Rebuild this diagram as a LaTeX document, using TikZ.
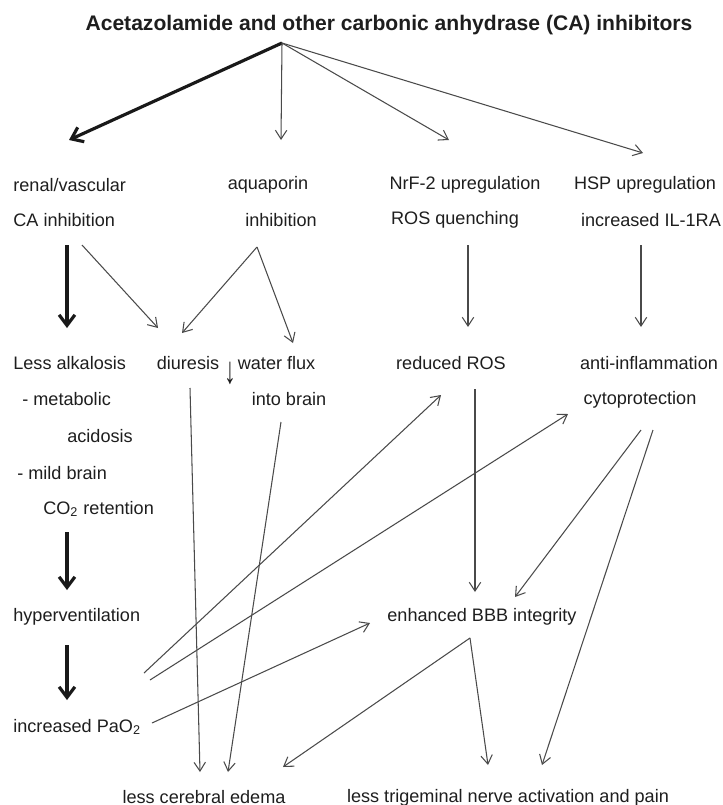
\documentclass[tikz,border=0pt]{standalone}
\usepackage{fontspec}
\setmainfont{Liberation Sans}
\usepackage{graphicx}
\usepackage{xcolor}
\usepackage{tikz}
\usetikzlibrary{arrows.meta, calc}

\definecolor{inkline}{HTML}{4A4A4A}
\definecolor{inktext}{HTML}{1E1E1E}

\begin{document}
\begin{tikzpicture}[x=0.02cm, y=-0.02cm,
    lbl/.style={inner sep=0pt, text=inktext, font=\fontsize{10.3}{12}\selectfont},
    thinarr/.style={inkline, line width=0.6pt, -{Straight Barb[length=5pt, width=6.5pt]}},
    boldarr/.style={black!90, line width=1.8pt, -{Straight Barb[length=6pt, width=9pt]}}]

    % Cornice (margini del riferimento)
    \useasboundingbox (0,0) rectangle (723,805);

    % Titolo
    \node[lbl, font=\fontsize{12}{14}\selectfont\bfseries] (title) at (389,25)
        {Acetazolamide and other carbonic anhydrase (CA) inhibitors};
    \coordinate (fan) at ($(title)+(-107,18)$);

    % Prima riga: meccanismi
    \node[lbl, anchor=west] (ren)  at (13,185) {renal/vascular};
    \node[lbl, anchor=west] (rcai) at (13,220) {CA inhibition};
    \node[lbl] (aqp)  at (268,185) {aquaporin};
    \node[lbl] (aqpi) at (281,220) {inhibition};
    \node[lbl] (nrf)  at (465,185) {NrF-2 upregulation};
    \node[lbl] (rosq) at (455,220) {ROS quenching};
    \node[lbl] (hsp)  at (645,185) {HSP upregulation};
    \node[lbl] (il1)  at (651,220) {increased IL-1RA};

    % Seconda riga: effetti
    \node[lbl, anchor=west] (alk)  at (13,363) {Less alkalosis};
    \node[lbl, anchor=west] (met)  at (22,399) {- metabolic};
    \node[lbl, anchor=west] (acid) at (67,436) {acidosis};
    \node[lbl, anchor=west] (mild) at (17,473) {- mild brain};
    \node[lbl, anchor=west] (co2)  at (43,509) {CO\textsubscript{2} retention};
    \node[lbl] (diu)  at (188,363) {diuresis};
    \node[lbl, anchor=west] (wat) at (224,363)
        {\smash{\raisebox{-0.75em}{\scalebox{1.3}[2.1]{↓}}}\kern1pt water flux};
    \node[lbl] (into) at (289,399) {into brain};
    \node[lbl] (red)  at (451,363) {reduced ROS};
    \node[lbl] (infl) at (649,363) {anti-inflammation};
    \node[lbl] (cyto) at (640,400) {cytoprotection};

    % Terza riga
    \node[lbl, anchor=west] (hyp) at (13,617) {hyperventilation};
    \node[lbl, anchor=west] (pao) at (13,727) {increased PaO\textsubscript{2}};
    \node[lbl] (bbb) at (482,617) {enhanced BBB integrity};

    % Esiti finali
    \node[lbl] (ede)  at (204,797) {less cerebral edema};
    \node[lbl] (trig) at (508,798) {less trigeminal nerve activation and pain};

    % Ventaglio dal titolo
    \draw[boldarr] (fan) -- ($(ren.west)+(56,-45)$);
    \foreach \n/\dx/\dy in {aqp/13/-45, nrf/-16/-45, hsp/-2/-32} {
        \draw[thinarr] (fan) -- ($(\n)+(\dx,\dy)$);
    }

    % Dalla prima alla seconda riga
    \draw[boldarr] ($(rcai.west)+(54,25)$) -- ($(alk.west)+(54,-35)$);
    \draw[thinarr] ($(rcai.west)+(69,25)$) -- ($(diu)+(-30,-35)$);
    \draw[thinarr] ($(aqpi)+(-24,27)$) -- ($(diu)+(-6,-30)$);
    \draw[thinarr] ($(aqpi)+(-24,27)$) -- ($(wat.west)+(69,-20)$);
    \draw[thinarr] ($(rosq)+(13,25)$) -- ($(red)+(17,-36)$);
    \draw[thinarr] ($(il1)+(-10,25)$) -- ($(infl)+(-8,-36)$);

    % Colonna sinistra (frecce spesse)
    \draw[boldarr] ($(co2.west)+(24,23)$) -- ($(hyp.west)+(54,-27)$);
    \draw[boldarr] ($(hyp.west)+(54,28)$) -- ($(pao.west)+(54,-27)$);

    % Linee lunghe incrociate
    \draw[thinarr] ($(diu)+(2,25)$) -- ($(ede)+(-4,-25)$);
    \draw[thinarr] ($(into)+(-8,23)$) -- ($(ede)+(24,-25)$);
    \draw[thinarr] ($(red)+(24,26)$) -- ($(bbb)+(-7,-25)$);
    \draw[thinarr] ($(hyp.west)+(131,56)$) -- ($(red)+(-10,32)$);
    \draw[thinarr] ($(hyp.west)+(137,63)$) -- ($(cyto)+(-72,14)$);
    \draw[thinarr] ($(cyto)+(1,30)$) -- ($(bbb)+(33,-20)$);
    \draw[thinarr] ($(cyto)+(13,30)$) -- ($(trig)+(34,-33)$);
    \draw[thinarr] ($(pao.west)+(139,-4)$) -- ($(bbb)+(-112,6)$);
    \draw[thinarr] ($(bbb)+(-12,21)$) -- ($(ede)+(79,-30)$);
    \draw[thinarr] ($(bbb)+(-12,21)$) -- ($(trig)+(-20,-33)$);

\end{tikzpicture}
\end{document}
